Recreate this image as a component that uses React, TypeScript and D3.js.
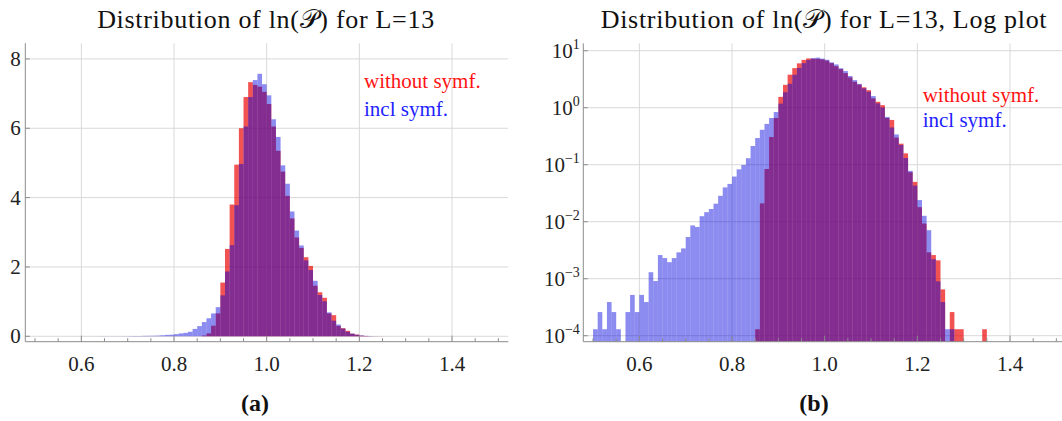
import React from 'react';
import * as d3 from 'd3';

// ---- data (histogram densities, bin width 0.01) ----
const binWidth = 0.01;
const blueStart = 0.5; // "incl symf."
const blueValues = [
  1.3e-4, 2.6e-4, 1.3e-4, 3.9e-4, 2.6e-4, 1.3e-4, 0, 2.6e-4, 5.2e-4, 2.6e-4, // 0.50-0.59
  5.2e-4, 3.9e-4, 1.3e-3, 9.1e-4, 2.6e-3, 2.3e-3, 1.95e-3, 2.3e-3, 2.9e-3, 3.4e-3, // 0.60-0.69
  5.4e-3, 8.6e-3, 8.1e-3, 1.25e-2, 1.47e-2, 1.67e-2, 2.07e-2, 2.85e-2, 4.0e-2, 4.6e-2, // 0.70-0.79
  6.2e-2, 8.3e-2, 9.9e-2, 0.13, 0.213, 0.294, 0.41, 0.52, 0.66, 0.84, // 0.80-0.89
  1.18, 1.87, 2.63, 3.78, 4.97, 6.05, 6.9, 7.39, 7.57, 7.27, // 0.90-0.99
  6.95, 6.26, 5.75, 4.93, 4.4, 3.6, 3.05, 2.62, 2.19, 1.91, // 1.00-1.09
  1.6, 1.19, 1.01, 0.69, 0.45, 0.34, 0.222, 0.131, 0.078, 0.043, // 1.10-1.19
  0.024, 0.0127, 0.0071, 0.0022, 0.0009, 3.9e-4, 1.3e-4, 1.3e-4, // 1.20-1.27
];
const redStart = 0.85; // "without symf."
const redValues = [
  1.3e-4, 0.021, 0.084, 0.306, 0.66, // 0.85-0.89
  1.55, 2.52, 3.8, 4.95, 6.0, 6.9, 7.33, 7.25, 7.2, 7.05, // 0.90-0.99
  6.7, 6.05, 5.35, 4.75, 4.05, 3.4, 2.85, 2.55, 2.28, 2.03, // 1.00-1.09
  1.46, 1.27, 1.11, 0.66, 0.61, 0.3, 0.234, 0.158, 0.074, 0.05, // 1.10-1.19
  0.018, 0.0093, 0.0029, 0.0026, 0.0021, 6.5e-4, 0, 2.6e-4, 1.3e-4, 1.3e-4, // 1.20-1.29
  0, 0, 0, 0, 1.3e-4, // 1.30-1.34
];
const xTickLabels = [0.6, 0.8, 1.0, 1.2, 1.4];
const xMinorTicks = d3.range(0, 21).map((i) => 0.5 + i * 0.05);
const yTicksLinear = [0, 2, 4, 6, 8];
const yTicksLogExp = [-4, -3, -2, -1, 0, 1];

const titles = ['Distribution of ln(𝒫) for L=13', 'Distribution of ln(𝒫) for L=13, Log plot'];
const subLabels = ['(a)', '(b)'];
const legendLabels = ['without symf.', 'incl symf.'];

const FONT = '"Liberation Serif", "DejaVu Serif", serif';
const RED = 'rgb(235,0,0)';
const BLUE = 'rgb(0,0,222)';
const GRID = '#d9d9d9';
const AXIS = '#8c8c8c';

type Bin = { x0: number; v: number };
const toBins = (start: number, vals: number[]): Bin[] =>
  vals.map((v, i) => ({ x0: +(start + i * binWidth).toFixed(2), v }));

const redBins = toBins(redStart, redValues);
const blueBins = toBins(blueStart, blueValues);

const TOP = 43.3;
const BOTTOM = 341.7;

function Panel({ left, log }: { left: number; log: boolean }) {
  const x = d3.scaleLinear().domain([0.479, 1.5215]).range([left, left + 483]);
  const yLin = d3.scaleLinear().domain([-0.156, 8.45]).range([BOTTOM, TOP]);
  const yLog = d3.scaleLog().domain([Math.pow(10, -4.105), Math.pow(10, 1.13)]).range([BOTTOM, TOP]);
  const y = (v: number) => (log ? yLog(v) : yLin(v));
  const base = log ? BOTTOM : yLin(0);
  const clipRight = 1062;
  const gridYs = log ? yTicksLogExp.map((e) => yLog(Math.pow(10, e))) : yTicksLinear.map((v) => yLin(v));

  const bars = (bins: Bin[], color: string, op: number) =>
    bins
      .filter((b) => b.v > 0)
      .map((b, i) => {
        const x0 = x(b.x0);
        const x1 = x(b.x0 + binWidth);
        const yt = y(b.v);
        return (
          <rect key={i} x={x0} y={yt} width={x1 - x0} height={Math.max(0, base - yt)} fill={color} fillOpacity={op} />
        );
      });

  const xr = Math.min(x.range()[1], clipRight);
  return (
    <g>
      {xTickLabels.map((t) => (
        <line key={'gx' + t} x1={x(t)} x2={x(t)} y1={TOP} y2={BOTTOM} stroke={GRID} strokeWidth={1} />
      ))}
      {gridYs.map((gy, i) => (
        <line key={'gy' + i} x1={left} x2={xr} y1={gy} y2={gy} stroke={GRID} strokeWidth={1} />
      ))}
      <g>{bars(redBins, RED, 0.68)}</g>
      <g>{bars(blueBins, BLUE, 0.45)}</g>
      <line x1={left} x2={left} y1={TOP} y2={BOTTOM} stroke={AXIS} strokeWidth={1} />
      <line x1={left} x2={xr} y1={BOTTOM} y2={BOTTOM} stroke={AXIS} strokeWidth={1} />
      {xMinorTicks.map((t) => {
        const major = xTickLabels.some((m) => Math.abs(m - t) < 1e-6);
        return (
          <line key={'tx' + t} x1={x(t)} x2={x(t)} y1={BOTTOM} y2={BOTTOM - (major ? 6 : 3.5)} stroke={AXIS} strokeWidth={1} />
        );
      })}
      {gridYs.map((gy, i) => (
        <line key={'ty' + i} x1={left} x2={left + 4.5} y1={gy} y2={gy} stroke={AXIS} strokeWidth={1} />
      ))}
      {xTickLabels.map((t) => (
        <text key={'lx' + t} x={x(t)} y={370.5} textAnchor="middle" fontSize={21} fontFamily={FONT} fill="#222">
          {t.toFixed(1)}
        </text>
      ))}
      {log
        ? yTicksLogExp.map((e) => (
            <text key={'ly' + e} x={left - 3.5} y={yLog(Math.pow(10, e)) + 7} textAnchor="end" fontFamily={FONT} fill="#222" fontSize={21}>
              10
              <tspan fontSize={14} dy={-9}>
                {e < 0 ? '\u2212' + Math.abs(e) : String(e)}
              </tspan>
            </text>
          ))
        : yTicksLinear.map((v) => (
            <text key={'ly' + v} x={left - 4.5} y={yLin(v) + 7} textAnchor="end" fontFamily={FONT} fill="#222" fontSize={21}>
              {v}
            </text>
          ))}
    </g>
  );
}

export default function App() {
  return (
    <svg
      width={1062}
      height={421}
      viewBox="0 0 1062 421"
      style={{ position: 'absolute', left: 0, top: 0, background: '#fff' }}
    >
      <rect x={0} y={0} width={1062} height={421} fill="#fff" />
      <Panel left={25.3} log={false} />
      <Panel left={583.3} log={true} />
      <text x={266} y={27.6} textAnchor="middle" fontFamily={FONT} fontSize={26} letterSpacing={0.7} fill="#111">
        {titles[0]}
      </text>
      <text x={824} y={27.6} textAnchor="middle" fontFamily={FONT} fontSize={26} letterSpacing={0.7} fill="#111">
        {titles[1]}
      </text>
      <text x={364} y={88.3} fontFamily={FONT} fontSize={21} fill="rgb(255,20,20)">{legendLabels[0]}</text>
      <text x={364} y={116} fontFamily={FONT} fontSize={21} fill="rgb(30,30,255)">{legendLabels[1]}</text>
      <text x={922.7} y={101.7} fontFamily={FONT} fontSize={21} fill="rgb(255,20,20)">{legendLabels[0]}</text>
      <text x={922.7} y={127.3} fontFamily={FONT} fontSize={21} fill="rgb(30,30,255)">{legendLabels[1]}</text>
      <text x={255} y={411} textAnchor="middle" fontFamily={FONT} fontWeight="bold" fontSize={24} fill="#111">
        {subLabels[0]}
      </text>
      <text x={814} y={411} textAnchor="middle" fontFamily={FONT} fontWeight="bold" fontSize={24} fill="#111">
        {subLabels[1]}
      </text>
    </svg>
  );
}
